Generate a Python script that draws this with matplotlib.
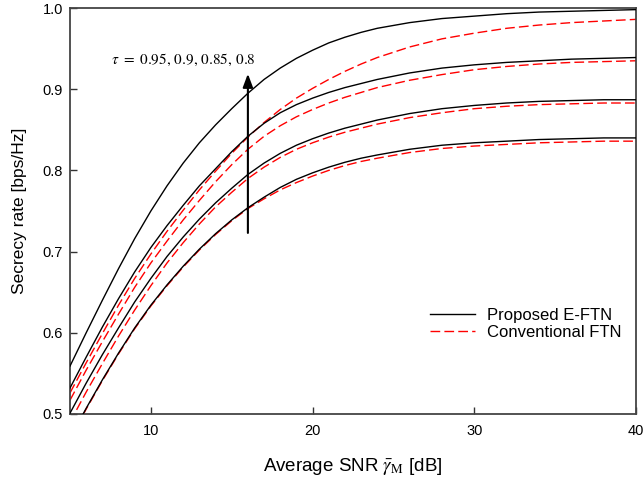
import matplotlib
matplotlib.use("Agg")
import matplotlib.pyplot as plt

plt.rcParams['font.family'] = ['Liberation Sans', 'DejaVu Sans']
plt.rcParams['mathtext.fontset'] = 'stix'

snr_db = [5, 6, 7, 8, 9, 10, 11, 12, 13, 14, 15, 16, 17, 18, 19, 20, 21, 22, 23, 24,
          26, 28, 30, 32, 34, 36, 38, 40]

# Proposed E-FTN, tau = 0.95, 0.9, 0.85, 0.8
prop_095 = [0.559, 0.600, 0.640, 0.679, 0.716, 0.750, 0.781, 0.809, 0.834, 0.856, 0.876, 0.895,
            0.912, 0.926, 0.938, 0.948, 0.957, 0.964, 0.970, 0.975,
            0.982, 0.987, 0.990, 0.993, 0.995, 0.996, 0.997, 0.998]
prop_090 = [0.532, 0.570, 0.607, 0.642, 0.675, 0.705, 0.732, 0.757, 0.781, 0.802, 0.823, 0.842,
            0.858, 0.871, 0.881, 0.889, 0.896, 0.902, 0.907, 0.912,
            0.920, 0.926, 0.930, 0.933, 0.935, 0.937, 0.938, 0.939]
prop_085 = [0.501, 0.538, 0.573, 0.606, 0.638, 0.667, 0.694, 0.718, 0.740, 0.760, 0.778, 0.795,
            0.809, 0.821, 0.831, 0.839, 0.846, 0.852, 0.857, 0.862,
            0.870, 0.876, 0.880, 0.883, 0.885, 0.886, 0.887, 0.887]
prop_080 = [0.470, 0.507, 0.542, 0.575, 0.606, 0.634, 0.659, 0.682, 0.703, 0.722, 0.739, 0.754,
            0.767, 0.779, 0.789, 0.797, 0.804, 0.810, 0.815, 0.819,
            0.826, 0.831, 0.834, 0.836, 0.838, 0.839, 0.840, 0.840]

# Conventional FTN, tau = 0.95, 0.9, 0.85, 0.8
conv_095 = [0.526, 0.563, 0.599, 0.634, 0.667, 0.697, 0.725, 0.751, 0.776, 0.799, 0.821, 0.841,
            0.859, 0.875, 0.889, 0.901, 0.912, 0.922, 0.931, 0.939,
            0.952, 0.962, 0.969, 0.975, 0.979, 0.982, 0.984, 0.986]
conv_090 = [0.517, 0.554, 0.589, 0.623, 0.656, 0.686, 0.713, 0.739, 0.763, 0.786, 0.807, 0.826,
            0.842, 0.855, 0.866, 0.875, 0.883, 0.890, 0.896, 0.902,
            0.911, 0.918, 0.924, 0.928, 0.931, 0.933, 0.934, 0.935]
conv_085 = [0.490, 0.527, 0.562, 0.596, 0.628, 0.658, 0.686, 0.711, 0.734, 0.755, 0.773, 0.790,
            0.804, 0.816, 0.826, 0.834, 0.841, 0.847, 0.852, 0.857,
            0.865, 0.871, 0.876, 0.879, 0.881, 0.882, 0.883, 0.883]
conv_080 = [0.469, 0.506, 0.541, 0.574, 0.605, 0.633, 0.658, 0.681, 0.702, 0.721, 0.738, 0.753,
            0.765, 0.776, 0.785, 0.793, 0.800, 0.806, 0.811, 0.815,
            0.822, 0.827, 0.830, 0.832, 0.834, 0.835, 0.836, 0.836]

proposed = [prop_095, prop_090, prop_085, prop_080]
conventional = [conv_095, conv_090, conv_085, conv_080]

x_ticks = [10, 20, 30, 40]
y_ticks = [0.5, 0.6, 0.7, 0.8, 0.9, 1.0]

fig = plt.figure(figsize=(6.44, 4.82), dpi=100)
ax = fig.add_axes([0.1087, 0.1411, 0.8789, 0.8423])

for i, s in enumerate(proposed):
    ax.plot(snr_db, s, color='black', lw=1.0,
            label='Proposed E-FTN' if i == 0 else None, zorder=3)
for i, s in enumerate(conventional):
    ax.plot(snr_db, s, color='#ff0000', lw=1.0, dashes=(7, 3),
            label='Conventional FTN' if i == 0 else None, zorder=2)

ax.set_xlim(5, 40)
ax.set_ylim(0.5, 1.0)
ax.set_xticks(x_ticks)
ax.set_yticks(y_ticks)
ax.set_xticklabels([str(t) for t in x_ticks])
ax.set_yticklabels(['%.1f' % t for t in y_ticks])
ax.tick_params(direction='in', length=5, width=1.0, labelsize=10.5, colors='#333333',
               labelcolor='black')
ax.tick_params(axis='x', pad=7.5)
ax.tick_params(axis='y', pad=5)
for sp in ax.spines.values():
    sp.set_color('#444444')
    sp.set_linewidth(1.3)

ax.set_xlabel(r'Average SNR $\bar{\mathit{\gamma}}_{\mathrm{M}}$ [dB]', fontsize=13.5, labelpad=12.5)
ax.set_ylabel('Secrecy rate [bps/Hz]', fontsize=12.5, labelpad=11.5)

ax.annotate('', xy=(16, 0.919), xytext=(16, 0.723),
            arrowprops=dict(arrowstyle='-|>,head_length=0.8,head_width=0.3',
                            color='black', lw=1.5, shrinkA=0, shrinkB=0), zorder=5)
ax.text(12.0, 0.936, r'$\tau\ =\ 0.95,\,0.9,\,0.85,\,0.8$', fontsize=11,
        ha='center', va='center')

leg = ax.legend(loc='upper left', bbox_to_anchor=(0.636, 0.261), frameon=False,
                fontsize=12, handlelength=2.7, handletextpad=0.7, labelspacing=0.1,
                borderpad=0, borderaxespad=0)

fig.savefig('out.png', dpi=100)
